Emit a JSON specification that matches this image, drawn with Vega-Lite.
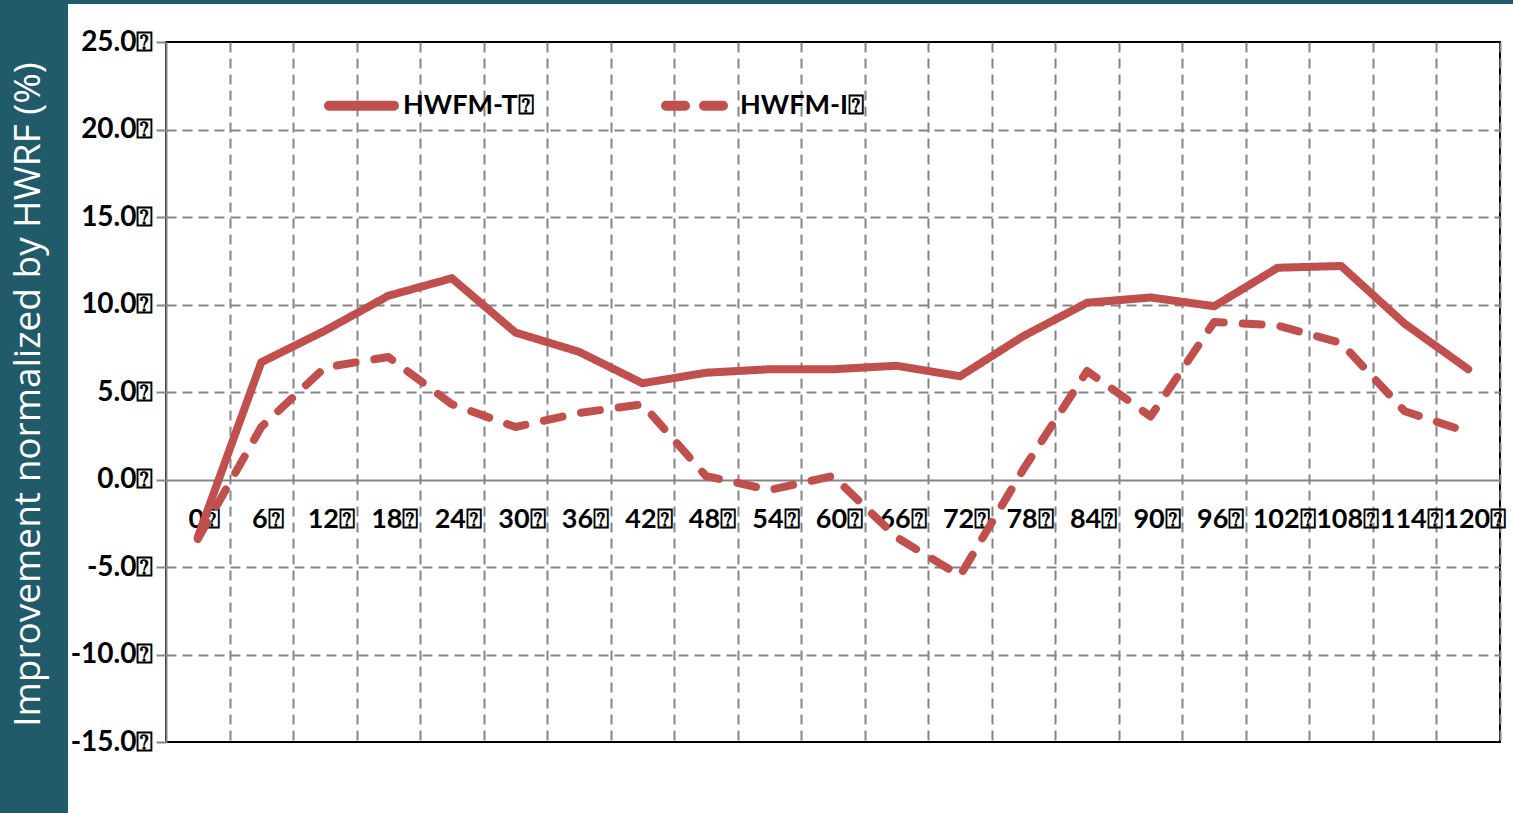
{
  "$schema": "https://vega.github.io/schema/vega-lite/v6.json",
  "padding": 0,
  "background": "white",
  "spacing": 0,
  "config": {"concat": {"spacing": 0}, "font": "Lato"},
  "vconcat": [
    {
      "width": 1513,
      "height": 4,
      "view": {"fill": "#215a69", "stroke": null},
      "data": {"values": [{"t": ""}]},
      "mark": {"type": "text", "fontSize": 1},
      "encoding": {"text": {"field": "t"}}
    },
    {
      "spacing": 0,
      "hconcat": [
        {
          "width": 68,
          "height": 809,
          "view": {"fill": "#215a69", "stroke": null},
          "data": {"values": [{"title": "Improvement normalized by HWRF (%)"}]},
          "mark": {"type": "text", "angle": 270, "color": "white", "font": "Open Sans", "fontSize": 37, "align": "center", "baseline": "middle", "dx": 14, "dy": -5},
          "encoding": {"text": {"field": "title"}}
        },
        {
          "spacing": 0,
          "vconcat": [
            {
              "width": 1334,
              "height": 23,
              "view": {"stroke": null},
              "data": {"values": [{"t": ""}]},
              "mark": {"type": "text", "fontSize": 1},
              "encoding": {"text": {"field": "t"}}
            },
            {
              "width": 1334,
              "height": 700,
              "view": {"stroke": "black", "strokeWidth": 2},
              "data": {"values": [
                {"hour": 0, "series": "HWFM-T", "value": -3.3},
                {"hour": 6, "series": "HWFM-T", "value": 6.7},
                {"hour": 12, "series": "HWFM-T", "value": 8.5},
                {"hour": 18, "series": "HWFM-T", "value": 10.5},
                {"hour": 24, "series": "HWFM-T", "value": 11.5},
                {"hour": 30, "series": "HWFM-T", "value": 8.4},
                {"hour": 36, "series": "HWFM-T", "value": 7.3},
                {"hour": 42, "series": "HWFM-T", "value": 5.5},
                {"hour": 48, "series": "HWFM-T", "value": 6.1},
                {"hour": 54, "series": "HWFM-T", "value": 6.3},
                {"hour": 60, "series": "HWFM-T", "value": 6.3},
                {"hour": 66, "series": "HWFM-T", "value": 6.5},
                {"hour": 72, "series": "HWFM-T", "value": 5.9},
                {"hour": 78, "series": "HWFM-T", "value": 8.2},
                {"hour": 84, "series": "HWFM-T", "value": 10.1},
                {"hour": 90, "series": "HWFM-T", "value": 10.4},
                {"hour": 96, "series": "HWFM-T", "value": 9.9},
                {"hour": 102, "series": "HWFM-T", "value": 12.1},
                {"hour": 108, "series": "HWFM-T", "value": 12.2},
                {"hour": 114, "series": "HWFM-T", "value": 8.9},
                {"hour": 120, "series": "HWFM-T", "value": 6.3},
                {"hour": 0, "series": "HWFM-I", "value": -3.4},
                {"hour": 6, "series": "HWFM-I", "value": 3.0},
                {"hour": 12, "series": "HWFM-I", "value": 6.4},
                {"hour": 18, "series": "HWFM-I", "value": 7.0},
                {"hour": 24, "series": "HWFM-I", "value": 4.3},
                {"hour": 30, "series": "HWFM-I", "value": 3.0},
                {"hour": 36, "series": "HWFM-I", "value": 3.8},
                {"hour": 42, "series": "HWFM-I", "value": 4.3},
                {"hour": 48, "series": "HWFM-I", "value": 0.2},
                {"hour": 54, "series": "HWFM-I", "value": -0.6},
                {"hour": 60, "series": "HWFM-I", "value": 0.2},
                {"hour": 66, "series": "HWFM-I", "value": -3.3},
                {"hour": 72, "series": "HWFM-I", "value": -5.5},
                {"hour": 78, "series": "HWFM-I", "value": 0.6},
                {"hour": 84, "series": "HWFM-I", "value": 6.2},
                {"hour": 90, "series": "HWFM-I", "value": 3.6},
                {"hour": 96, "series": "HWFM-I", "value": 9.0},
                {"hour": 102, "series": "HWFM-I", "value": 8.8},
                {"hour": 108, "series": "HWFM-I", "value": 7.8},
                {"hour": 114, "series": "HWFM-I", "value": 3.9},
                {"hour": 120, "series": "HWFM-I", "value": 2.7}
              ]},
              "mark": {"type": "line", "strokeWidth": 8, "strokeCap": "round", "strokeJoin": "round", "color": "#c0504d"},
              "encoding": {
                "x": {
                  "field": "hour",
                  "type": "ordinal",
                  "bandPosition": 0.5,
                  "scale": {"type": "band", "paddingInner": 0, "paddingOuter": 0},
                  "axis": {
                    "title": null,
                    "domain": false,
                    "ticks": false,
                    "grid": true,
                    "tickBand": "extent",
                    "gridDash": [10, 6],
                    "gridColor": "#858585",
                    "gridWidth": 2,
                    "gridOpacity": {"condition": {"test": "datum.extra", "value": 0}, "value": 1},
                    "labelAngle": 0,
                    "labelFont": "Lato",
                    "labelFontWeight": "bold",
                    "labelFontSize": 27,
                    "labelColor": "black",
                    "labelBaseline": "top",
                    "labelPadding": -236,
                    "labelOffset": 6,
                    "labelOverlap": false,
                    "labelExpr": "datum.label ? datum.label + '⍰' : ''"
                  }
                },
                "y": {
                  "field": "value",
                  "type": "quantitative",
                  "scale": {"domain": [-15, 25], "nice": false, "zero": false},
                  "axis": {
                    "title": null,
                    "values": [-15, -10, -5, 0, 5, 10, 15, 20, 25],
                    "labelExpr": "(datum.value < 0 ? '-' : '') + format(abs(datum.value), '.1f') + '⍰'",
                    "domain": true,
                    "domainColor": "#858585",
                    "domainWidth": 2,
                    "ticks": true,
                    "tickSize": 10,
                    "tickColor": "#858585",
                    "tickWidth": 2,
                    "grid": true,
                    "gridColor": "#858585",
                    "gridWidth": 2,
                    "gridDash": {"condition": {"test": "datum.value === 0", "value": []}, "value": [10, 6]},
                    "gridOpacity": {"condition": {"test": "datum.value === 25 || datum.value === -15", "value": 0}, "value": 1},
                    "labelFont": "Lato",
                    "labelFontWeight": "bold",
                    "labelFontSize": 28,
                    "labelColor": "black",
                    "labelPadding": 3,
                    "minExtent": 97,
                    "maxExtent": 97
                  }
                },
                "strokeDash": {
                  "field": "series",
                  "type": "nominal",
                  "scale": {"domain": ["HWFM-T", "HWFM-I"], "range": [[1, 0], [19, 19]]},
                  "legend": {
                    "orient": "none",
                    "legendX": 324,
                    "legendY": 68,
                    "direction": "horizontal",
                    "title": null,
                    "padding": 0,
                    "symbolType": "stroke",
                    "symbolSize": 4225,
                    "symbolStrokeWidth": 10,
                    "symbolStrokeColor": "#c0504d",
                    "labelFont": "Lato",
                    "labelFontWeight": "bold",
                    "labelFontSize": 27,
                    "labelColor": "black",
                    "labelOffset": 4,
                    "labelLimit": 0,
                    "columnPadding": 112,
                    "labelExpr": "datum.label + '⍰'",
                    "encode": {"symbols": {"update": {"strokeCap": {"value": "round"}}}}
                  }
                }
              }
            }
          ]
        }
      ]
    }
  ]
}
